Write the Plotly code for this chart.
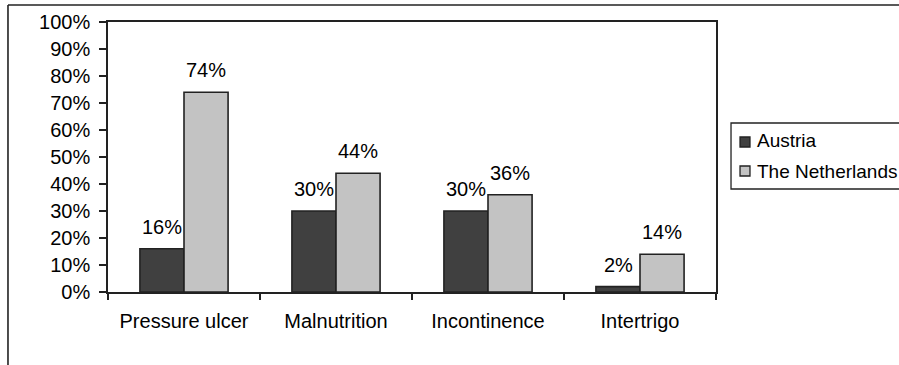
import plotly.graph_objects as go

# Prevalence of care problems by country
categories = ["Pressure ulcer", "Malnutrition", "Incontinence", "Intertrigo"]
series_names = ["Austria", "The Netherlands"]
austria = [0.16, 0.30, 0.30, 0.02]
netherlands = [0.74, 0.44, 0.36, 0.14]
y_ticks = [i / 10 for i in range(11)]
y_tick_labels = [f"{i * 10}%" for i in range(11)]

FONT = "Liberation Sans, Arial, sans-serif"
TXT = dict(family=FONT, size=20, color="black")
LEG_TXT = dict(family=FONT, size=19, color="black")
EDGE = "#222222"
COLORS = ["#404040", "#C3C3C3"]

fig = go.Figure()
for name, vals, color in zip(series_names, (austria, netherlands), COLORS):
    fig.add_trace(go.Bar(
        name=name, x=categories, y=vals, showlegend=False,
        marker=dict(color=color, line=dict(color=EDGE, width=1.6)),
    ))

# value labels above each bar
for vals, shift in ((austria, -22), (netherlands, 22)):
    for cat, v in zip(categories, vals):
        fig.add_annotation(
            x=cat, y=v, xref="x", yref="y", text=f"{round(v * 100)}%",
            showarrow=False, xshift=shift, yshift=9, yanchor="bottom",
            font=TXT,
        )

# outer chart frame (left and top edges)
fig.add_shape(type="line", xref="paper", yref="paper",
              x0=-0.1645, x1=-0.1645, y0=-0.5, y1=1.063,
              line=dict(color=EDGE, width=1.6))
fig.add_shape(type="line", xref="paper", yref="paper",
              x0=-0.1645, x1=1.5, y0=1.063, y1=1.063,
              line=dict(color=EDGE, width=1.6))

# legend box with small square keys
fig.add_shape(type="rect", xref="paper", yref="paper",
              x0=1.0247, x1=1.6, y0=0.3815, y1=0.6259,
              line=dict(color=EDGE, width=1.3), fillcolor="white")
legend_rows = [(0.537, 0.574, 0.5593), (0.4296, 0.4667, 0.4481)]
for name, color, (y0, y1, yt) in zip(series_names, COLORS, legend_rows):
    fig.add_shape(type="rect", xref="paper", yref="paper",
                  x0=1.0395, x1=1.0559, y0=y0, y1=y1,
                  line=dict(color=EDGE, width=1.3), fillcolor=color)
    fig.add_annotation(x=1.064, y=yt, xref="paper", yref="paper",
                       text=name, showarrow=False, xanchor="left",
                       yanchor="middle", font=LEG_TXT)

fig.update_layout(
    width=899, height=365,
    margin=dict(l=108, r=183, t=22, b=73, autoexpand=False),
    paper_bgcolor="white", plot_bgcolor="white",
    barmode="group", bargap=0.42, bargroupgap=0,
    font=TXT,
    showlegend=False,
)
fig.update_xaxes(
    type="category", showline=True, mirror=True, linecolor=EDGE,
    linewidth=1.6, ticks="outside", tickson="boundaries", ticklen=6,
    tickcolor=EDGE, tickwidth=1.6, ticklabelstandoff=10,
    tickfont=TXT, showgrid=False,
)
fig.update_yaxes(
    range=[0, 1], tickvals=y_ticks, ticktext=y_tick_labels,
    showline=True, mirror=True, linecolor=EDGE, linewidth=1.6,
    ticks="outside", ticklen=7, tickcolor=EDGE, tickwidth=1.6,
    ticklabelstandoff=5, tickfont=TXT, showgrid=False, zeroline=False,
)

fig.write_html("out.html")
